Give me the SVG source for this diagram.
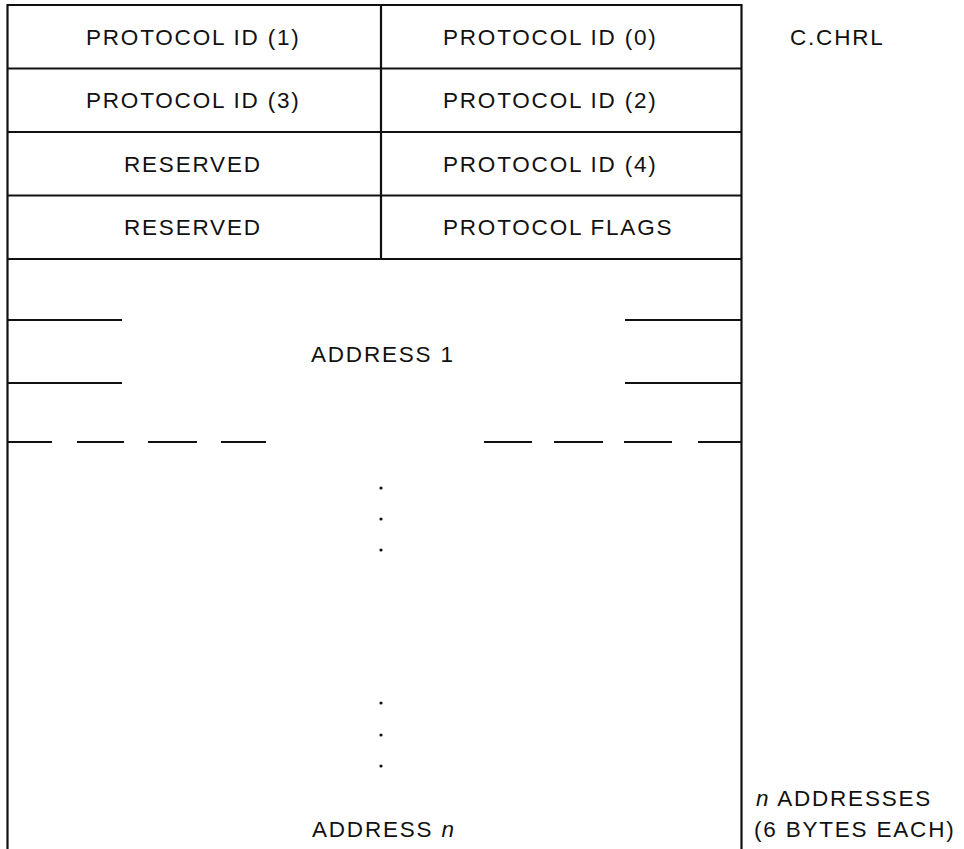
<svg xmlns="http://www.w3.org/2000/svg" width="964" height="849" viewBox="0 0 964 849">
<style>
.t{font-family:"Liberation Sans",Arial,sans-serif;font-size:22.5px;letter-spacing:1.8px;fill:#111}
.ln{stroke:#111;stroke-width:2.2;fill:none}
</style>
<rect width="964" height="849" fill="#fff"/>
<g id="frame">
<path class="ln" d="M7.5,849 V5 H741.5 V849"/>
<line class="ln" x1="381" y1="5" x2="381" y2="259"/>
<line class="ln" x1="7.5" y1="68.5" x2="741.5" y2="68.5"/>
<line class="ln" x1="7.5" y1="132" x2="741.5" y2="132"/>
<line class="ln" x1="7.5" y1="195.5" x2="741.5" y2="195.5"/>
<line class="ln" x1="7.5" y1="259" x2="741.5" y2="259"/>
</g>
<g id="row1">
<text class="t" x="86" y="45">PROTOCOL ID (1)</text>
<text class="t" x="443" y="45">PROTOCOL ID (0)</text>
</g>
<g id="row2">
<text class="t" x="86" y="108">PROTOCOL ID (3)</text>
<text class="t" x="443" y="108">PROTOCOL ID (2)</text>
</g>
<g id="row3">
<text class="t" x="124" y="172">RESERVED</text>
<text class="t" x="443" y="172">PROTOCOL ID (4)</text>
</g>
<g id="row4">
<text class="t" x="124" y="235">RESERVED</text>
<text class="t" x="443" y="235">PROTOCOL FLAGS</text>
</g>
<g id="label-chrl">
<text class="t" x="790" y="45">C.CHRL</text>
</g>
<g id="address1">
<line class="ln" x1="7.5" y1="320" x2="122" y2="320"/>
<line class="ln" x1="7.5" y1="383" x2="122" y2="383"/>
<line class="ln" x1="625" y1="320" x2="741.5" y2="320"/>
<line class="ln" x1="625" y1="383" x2="741.5" y2="383"/>
<text class="t" x="311" y="362">ADDRESS 1</text>
<path class="ln" d="M7.5,442 H52 M77,442 H124 M148,442 H197 M221,442 H266 M484,442 H532 M554,442 H603 M624,442 H672 M698,442 H741.5"/>
</g>
<g id="dots" fill="#111">
<circle cx="381" cy="488" r="1.6"/>
<circle cx="381" cy="519" r="1.6"/>
<circle cx="381" cy="550" r="1.6"/>
<circle cx="381" cy="703" r="1.6"/>
<circle cx="381" cy="735" r="1.6"/>
<circle cx="381" cy="766" r="1.6"/>
</g>
<g id="addressn">
<text class="t" x="312" y="837">ADDRESS <tspan font-style="italic">n</tspan></text>
</g>
<g id="label-count">
<text class="t" x="756" y="806"><tspan font-style="italic">n</tspan> ADDRESSES</text>
<text class="t" x="754" y="837">(6 BYTES EACH)</text>
</g>
</svg>
